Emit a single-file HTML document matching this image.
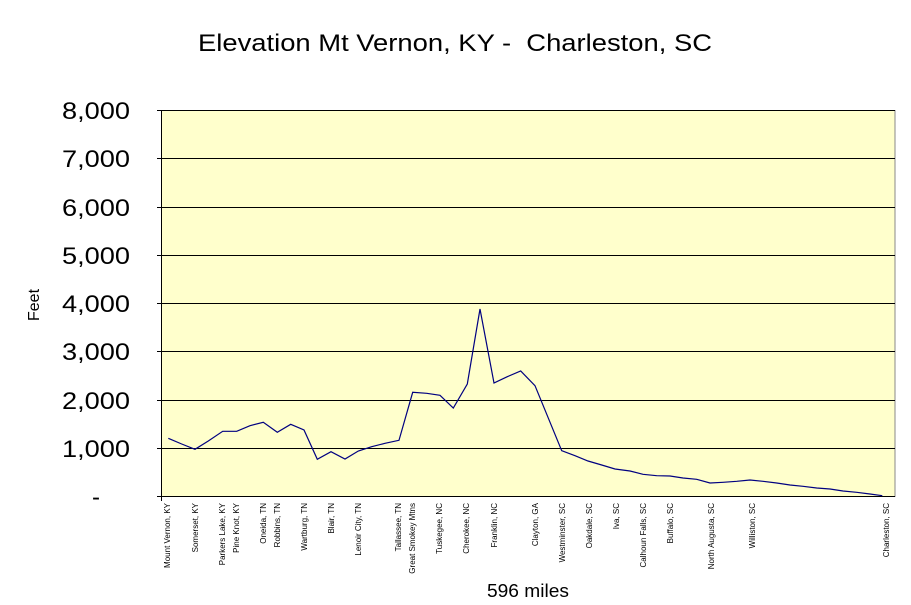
<!DOCTYPE html>
<html><head><meta charset="utf-8"><style>
html,body{margin:0;padding:0;background:#fff;}
svg{display:block;font-family:"Liberation Sans",Arial,sans-serif;}
</style></head><body>
<svg width="911" height="605" viewBox="0 0 911 605" xmlns="http://www.w3.org/2000/svg">
<rect x="161" y="110" width="734" height="387" fill="#FFFFCC"/>
<line x1="895" y1="110" x2="895" y2="497" stroke="#888" stroke-width="1"/>
<g stroke="#000" stroke-width="1">
<line x1="161" y1="110.5" x2="895" y2="110.5"/>
<line x1="161" y1="158.5" x2="895" y2="158.5"/>
<line x1="161" y1="207.5" x2="895" y2="207.5"/>
<line x1="161" y1="255.5" x2="895" y2="255.5"/>
<line x1="161" y1="303.5" x2="895" y2="303.5"/>
<line x1="161" y1="351.5" x2="895" y2="351.5"/>
<line x1="161" y1="400.5" x2="895" y2="400.5"/>
<line x1="161" y1="448.5" x2="895" y2="448.5"/>
<line x1="161" y1="496.5" x2="895" y2="496.5"/>
<line x1="161.5" y1="110" x2="161.5" y2="501"/>
<line x1="157" y1="110.5" x2="161" y2="110.5"/><line x1="157" y1="158.5" x2="161" y2="158.5"/><line x1="157" y1="207.5" x2="161" y2="207.5"/><line x1="157" y1="255.5" x2="161" y2="255.5"/><line x1="157" y1="303.5" x2="161" y2="303.5"/><line x1="157" y1="351.5" x2="161" y2="351.5"/><line x1="157" y1="400.5" x2="161" y2="400.5"/><line x1="157" y1="448.5" x2="161" y2="448.5"/><line x1="157" y1="496.5" x2="161" y2="496.5"/>
</g>
<g id="xt" stroke="#000" stroke-width="1"></g>
<polyline fill="none" stroke="#000080" stroke-width="1.2" points="168.3,438.3 181.7,444 195,449.3 208.3,441 222.7,431.3 236.7,431.3 250,425.7 263.3,422.3 277.3,432.3 290.7,424.3 304,430 317.3,459.3 331,451.7 345,459 358.3,451 371.7,446.7 385,443.3 399,440.3 412.7,392.3 426.7,393.3 440,395.3 453.3,408 467.3,384 480,309 494,383 507.3,376.7 520.7,371 535,385.7 561.7,450.7 575,455.7 588,461 601.7,465 615,469 630,471 643,474.3 656.7,475.7 670,476 683,478 696.7,479.3 710,483 723,482.3 736.7,481.3 750,480 763,481.3 776.7,483 790,485 803,486.3 816.7,488 830,489 843,491 856.7,492.3 870,494 882.3,495.7"/>
<g font-size="24" fill="#000">
<text x="62" y="119" textLength="68" lengthAdjust="spacingAndGlyphs">8,000</text>
<text x="62" y="167" textLength="68" lengthAdjust="spacingAndGlyphs">7,000</text>
<text x="62" y="216" textLength="68" lengthAdjust="spacingAndGlyphs">6,000</text>
<text x="62" y="264" textLength="68" lengthAdjust="spacingAndGlyphs">5,000</text>
<text x="62" y="312" textLength="68" lengthAdjust="spacingAndGlyphs">4,000</text>
<text x="62" y="360" textLength="68" lengthAdjust="spacingAndGlyphs">3,000</text>
<text x="62" y="409" textLength="68" lengthAdjust="spacingAndGlyphs">2,000</text>
<text x="62" y="457" textLength="68" lengthAdjust="spacingAndGlyphs">1,000</text>
<text x="92" y="505">-</text>
</g>
<text x="198" y="51" font-size="24" textLength="514" lengthAdjust="spacingAndGlyphs">Elevation Mt Vernon, KY -&#160; Charleston, SC</text>
<text x="487" y="597" font-size="18" textLength="82" lengthAdjust="spacingAndGlyphs">596 miles</text>
<text transform="translate(39,305) rotate(-90)" font-size="16" text-anchor="middle">Feet</text>
<g font-size="8" text-anchor="end">
<text transform="translate(170,503) rotate(-90)">Mount Vernon, KY</text>
<text transform="translate(198,503) rotate(-90)">Somerset, KY</text>
<text transform="translate(225,503) rotate(-90)">Parkers Lake, KY</text>
<text transform="translate(239,503) rotate(-90)">Pine Knot, KY</text>
<text transform="translate(266,503) rotate(-90)">Oneida, TN</text>
<text transform="translate(280,503) rotate(-90)">Robbins, TN</text>
<text transform="translate(307,503) rotate(-90)">Wartburg, TN</text>
<text transform="translate(334,503) rotate(-90)">Blair, TN</text>
<text transform="translate(361,503) rotate(-90)">Lenoir City, TN</text>
<text transform="translate(401,503) rotate(-90)">Tallassee, TN</text>
<text transform="translate(415,503) rotate(-90)">Great Smokey Mtns</text>
<text transform="translate(442,503) rotate(-90)">Tuskegee, NC</text>
<text transform="translate(469,503) rotate(-90)">Cherokee, NC</text>
<text transform="translate(497,503) rotate(-90)">Franklin, NC</text>
<text transform="translate(538,503) rotate(-90)">Clayton, GA</text>
<text transform="translate(565,503) rotate(-90)">Westminster, SC</text>
<text transform="translate(592,503) rotate(-90)">Oakdale, SC</text>
<text transform="translate(619,503) rotate(-90)">Iva, SC</text>
<text transform="translate(646,503) rotate(-90)">Calhoun Falls, SC</text>
<text transform="translate(673,503) rotate(-90)">Buffalo, SC</text>
<text transform="translate(714,503) rotate(-90)">North Augusta, SC</text>
<text transform="translate(755,503) rotate(-90)">Williston, SC</text>
<text transform="translate(889,503) rotate(-90)">Charleston, SC</text>
</g>
<script>
var g=document.getElementById('xt'),s='';
for(var i=0;i<=54;i++){var x=161.5+i*13.59;s+='<line x1="'+x+'" y1="497" x2="'+x+'" y2="501"/>';}
g.innerHTML=s;
</script>
</svg>
</body></html>
